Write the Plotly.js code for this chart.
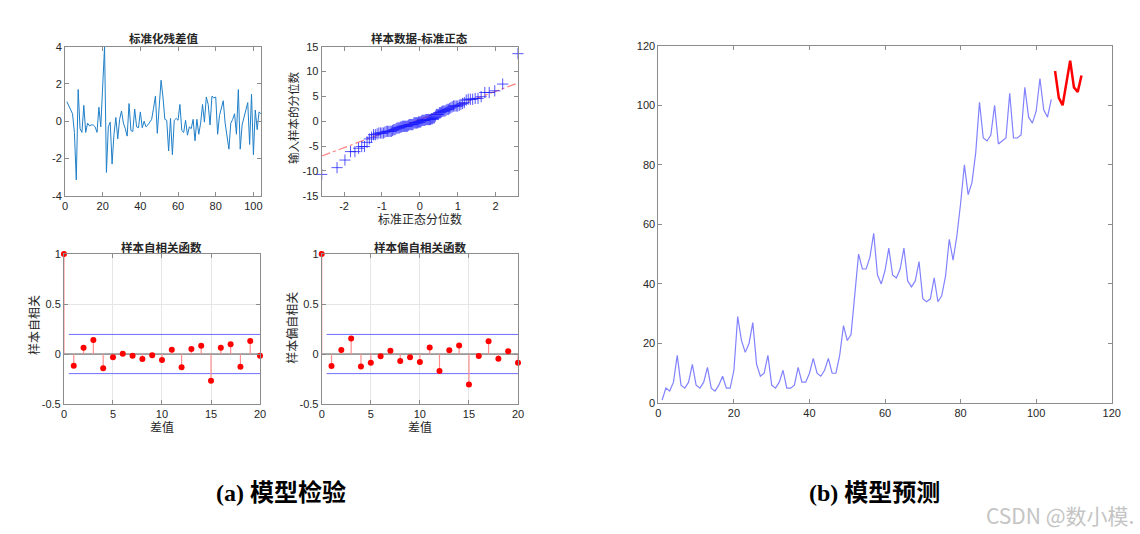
<!DOCTYPE html>
<html>
<head>
<meta charset="utf-8">
<script src="https://cdn.plot.ly/plotly-3.0.1.min.js"></script>
<style>
html,body{margin:0;padding:0;background:#fff;}
#chart{width:1140px;height:534px;}
</style>
</head>
<body>
<div id="chart"></div>
<script>
// ---------- data ----------
// (1) standardized residuals, index 1..104
const residuals = [1.05,0.8,0.6,0.4,-0.6,-3.15,1.7,-0.4,-0.6,0.85,
  -0.6,-0.1,-0.25,-0.2,-0.2,-0.3,-0.6,0.75,-0.3,1.8,
  4.0,-2.75,-0.3,-0.05,-2.3,-0.7,0.2,-0.95,0.1,0.55,
  -0.1,-0.4,-0.8,0.95,-0.5,-0.55,0.65,-0.3,-0.35,0.5,
  -0.35,0.0,-0.3,-0.2,-0.05,0.1,0.7,1.35,-0.65,0.9,
  2.2,1.3,0.1,0.05,-1.6,0.15,-1.8,0.05,0.15,0.05,
  0.9,-0.5,-0.6,0.05,-0.75,-0.3,-0.4,0.1,-1.05,0.1,
  -0.7,-0.1,0.9,-0.05,1.3,0.9,-0.2,1.35,1.25,1.3,
  -0.7,0.3,0.7,1.1,-0.1,-0.8,-1.5,-0.1,0.1,0.4,
  -0.7,1.7,-1.5,-0.2,0.2,0.6,1.0,-1.25,1.45,-1.8,
  0.6,-0.45,0.5,0.4];
const residualSD = 3.4;

// (2) QQ reference line (red dash-dot) and solid quartile segment
const qqLineX = [-2.59, 2.59];
const qqLineY = [-7.0, 7.7];
const qqSolidX = [-0.67, 0.67];
const qqSolidY = [-1.55, 2.25];

// (3) sample ACF, lags 0..20
const lags = [0,1,2,3,4,5,6,7,8,9,10,11,12,13,14,15,16,17,18,19,20];
const acfValues = [1,-0.117,0.063,0.14,-0.143,-0.033,0.003,-0.017,-0.05,-0.013,-0.06,
  0.043,-0.133,0.05,0.083,-0.267,0.063,0.097,-0.127,0.13,-0.017];
// (4) sample PACF, lags 0..20
const pacfValues = [1,-0.12,0.04,0.154,-0.124,-0.087,-0.023,0.033,-0.07,-0.033,-0.08,
  0.064,-0.17,0.037,0.084,-0.304,-0.02,0.127,-0.047,0.027,-0.087];
const confBound = 0.196;
const confLagRange = [0.5, 20];

// (5) observed series (1..104) and forecast (105..112)
const observed = [1,5,4,7,16,6,5,7,13,6,
  5,7,12,5,4,6,9,5,5,11,
  29,21,17,20,27,13,9,10,16,6,
  5,7,11,5,5,6,12,7,7,10,
  15,10,9,11,15,10,10,16,26,21,
  23,36,50,45,45,49,57,43,40,44.5,
  52,43,42,45,52,41,39,41,47.5,35,
  34,35,42,34,36,42.5,55,48,56,67,
  80,70,74,84,101,89,88,90,100,87,
  88,89,104,89,89,90,106,96,94,98,
  109,98.5,96,102];
const forecastStart = 105;
const forecast = [111.5,102.5,100,107,115,106,104.5,110];

// tick labels
const resXTicks = [0,20,40,60,80,100];
const resYTicks = [-4,-2,0,2,4];
const qqXTicks = [-2,-1,0,1,2];
const qqYTicks = [-15,-10,-5,0,5,10,15];
const corrXTicks = [0,5,10,15,20];
const corrYTicks = [-0.5,0,0.5,1];
const predTicks = [0,20,40,60,80,100,120];

// ---------- helpers ----------
function invNorm(p){ // Acklam inverse normal CDF
  const a=[-39.69683028665376,220.9460984245205,-275.9285104469687,138.3577518672690,-30.66479806614716,2.506628277459239];
  const b=[-54.47609879822406,161.5858368580409,-155.6989798598866,66.80131188771972,-13.28068155288572];
  const c=[-0.007784894002430293,-0.3223964580411365,-2.400758277161838,-2.549732539343734,4.374664141464968,2.938163982698783];
  const d=[0.007784695709041462,0.3224671290700398,2.445134137142996,3.754408661907416];
  const pl=0.02425, ph=1-pl; let q,r;
  if(p<pl){q=Math.sqrt(-2*Math.log(p));return (((((c[0]*q+c[1])*q+c[2])*q+c[3])*q+c[4])*q+c[5])/((((d[0]*q+d[1])*q+d[2])*q+d[3])*q+1);}
  if(p<=ph){q=p-0.5;r=q*q;return (((((a[0]*r+a[1])*r+a[2])*r+a[3])*r+a[4])*r+a[5])*q/(((((b[0]*r+b[1])*r+b[2])*r+b[3])*r+b[4])*r+1);}
  q=Math.sqrt(-2*Math.log(1-p));return -(((((c[0]*q+c[1])*q+c[2])*q+c[3])*q+c[4])*q+c[5])/((((d[0]*q+d[1])*q+d[2])*q+d[3])*q+1);
}
const residIdx = residuals.map((_, i) => i + 1);
const n = residuals.length;
const qqY = residuals.map(v => v * residualSD).sort((a, b) => a - b);
const qqX = qqY.map((_, i) => invNorm((i + 0.5) / n));
const obsIdx = observed.map((_, i) => i + 1);
const fcIdx = forecast.map((_, i) => forecastStart + i);

function stems(xs, ys){
  const sx = [], sy = [];
  xs.forEach((x, i) => { sx.push(x, x, null); sy.push(0, ys[i], null); });
  return {x: sx, y: sy};
}
const tickFont = {family:'"Liberation Sans", Arial, sans-serif', size:11, color:'#262626'};
function ax(extra){
  return Object.assign({
    showline:true, linecolor:'#8c8c8c', linewidth:1, mirror:'ticks',
    ticks:'inside', ticklen:4, tickcolor:'#8c8c8c', tickwidth:1,
    showgrid:false, zeroline:false, tickfont:tickFont, fixedrange:true
  }, extra);
}
function tv(arr){ return {tickmode:'array', tickvals:arr, ticktext:arr.map(v => String(v))}; }

const X1=[0.0570,0.2289], X2=[0.2822,0.4544], X3=[0.0561,0.2281];
const YT=[0.6335,0.9125], YB=[0.2434,0.5243];

const traces = [];
// panel 1
traces.push({x:residIdx, y:residuals, xaxis:'x', yaxis:'y', mode:'lines',
  line:{color:'#1f7fc8', width:1}, hoverinfo:'skip'});
// panel 2
traces.push({x:qqLineX, y:qqLineY, xaxis:'x2', yaxis:'y2', mode:'lines',
  line:{color:'#ff7f7f', width:1.2, dash:'dashdot'}, hoverinfo:'skip'});
traces.push({x:qqSolidX, y:qqSolidY, xaxis:'x2', yaxis:'y2', mode:'lines',
  line:{color:'#ff7f7f', width:1.2}, hoverinfo:'skip'});
traces.push({x:qqX, y:qqY, xaxis:'x2', yaxis:'y2', mode:'markers', cliponaxis:false,
  marker:{symbol:'cross-thin-open', size:8, color:'rgba(30,30,255,0.75)', line:{color:'rgba(30,30,255,0.75)', width:1}}, hoverinfo:'skip'});
// panels 3 & 4
[[acfValues,'x3','y3'],[pacfValues,'x4','y4']].forEach(([vals, xa, ya]) => {
  traces.push({x:[0,20], y:[0,0], xaxis:xa, yaxis:ya, mode:'lines', line:{color:'#555555', width:1}, hoverinfo:'skip'});
  traces.push({x:confLagRange, y:[confBound, confBound], xaxis:xa, yaxis:ya, mode:'lines', line:{color:'#6f6fff', width:1}, hoverinfo:'skip'});
  traces.push({x:confLagRange, y:[-confBound, -confBound], xaxis:xa, yaxis:ya, mode:'lines', line:{color:'#6f6fff', width:1}, hoverinfo:'skip'});
  const s = stems(lags, vals);
  traces.push({x:s.x, y:s.y, xaxis:xa, yaxis:ya, mode:'lines', cliponaxis:false, line:{color:'#ff8f8f', width:1.2}, connectgaps:false, hoverinfo:'skip'});
  traces.push({x:lags, y:vals, xaxis:xa, yaxis:ya, mode:'markers', cliponaxis:false, marker:{color:'#ff0000', size:6}, hoverinfo:'skip'});
});
// panel 5
traces.push({x:obsIdx, y:observed, xaxis:'x5', yaxis:'y5', mode:'lines', line:{color:'#8282ff', width:1.2}, hoverinfo:'skip'});
traces.push({x:fcIdx, y:forecast, xaxis:'x5', yaxis:'y5', mode:'lines', line:{color:'#ff0000', width:2.5}, hoverinfo:'skip'});

const cjk = '"Noto Sans CJK SC", "Liberation Sans", sans-serif';
function ann(text, x, y, size, opts){
  return Object.assign({text:text, x:x, y:y, xref:'paper', yref:'paper', xanchor:'center', yanchor:'middle',
    showarrow:false, font:{family:cjk, size:size, color:'#262626'}}, opts || {});
}
const titleFont = {family:cjk, size:11.5, color:'#262626', weight:600};
const capFont = {family:'"Liberation Serif", "Noto Sans CJK SC", serif', size:24, color:'#000', weight:'bold'};
const annotations = [
  ann('标准化残差值', 0.143, 0.9283, 11.5, {font:titleFont}),
  ann('样本数据-标准正态', 0.3684, 0.9283, 11.5, {font:titleFont}),
  ann('标准正态分位数', 0.3684, 0.5899, 12),
  ann('输入样本的分位数', 0.2570, 0.779, 11.5, {textangle:-90}),
  ann('样本自相关函数', 0.1421, 0.538, 11.5, {font:titleFont}),
  ann('差值', 0.1421, 0.2004, 12),
  ann('样本自相关', 0.0298, 0.3914, 12, {textangle:-90}),
  ann('样本偏自相关函数', 0.3684, 0.538, 11.5, {font:titleFont}),
  ann('差值', 0.3684, 0.2004, 12),
  ann('样本偏自相关', 0.2559, 0.3858, 12, {textangle:-90}),
  ann('(a) 模型检验', 0.2465, 0.0768, 24, {font:capFont}),
  ann('(b) 模型预测', 0.7667, 0.0768, 24, {font:capFont}),
  ann('CSDN @数小模.', 0.9965, 0.0356, 21, {xanchor:'right', font:{family:cjk, size:21, color:'#c4c4c4'}})
];

const layout = {
  width:1140, height:534, margin:{l:0, r:0, t:0, b:0},
  paper_bgcolor:'#ffffff', plot_bgcolor:'#ffffff', showlegend:false,
  xaxis:  ax(Object.assign({domain:X1, anchor:'y',  range:[0,104]}, tv(resXTicks))),
  yaxis:  ax(Object.assign({domain:YT, anchor:'x',  range:[-4,4]}, tv(resYTicks))),
  xaxis2: ax(Object.assign({domain:X2, anchor:'y2', range:[-2.59,2.59]}, tv(qqXTicks))),
  yaxis2: ax(Object.assign({domain:YT, anchor:'x2', range:[-15,15]}, tv(qqYTicks))),
  xaxis3: ax(Object.assign({domain:X3, anchor:'y3', range:[0,20], showgrid:true, gridcolor:'#e6e6e6'}, tv(corrXTicks))),
  yaxis3: ax(Object.assign({domain:YB, anchor:'x3', range:[-0.5,1], showgrid:true, gridcolor:'#e6e6e6'}, tv(corrYTicks))),
  xaxis4: ax(Object.assign({domain:X2, anchor:'y4', range:[0,20], showgrid:true, gridcolor:'#e6e6e6'}, tv(corrXTicks))),
  yaxis4: ax(Object.assign({domain:YB, anchor:'x4', range:[-0.5,1], showgrid:true, gridcolor:'#e6e6e6'}, tv(corrYTicks))),
  xaxis5: ax(Object.assign({domain:[0.5775,0.9752], anchor:'y5', range:[0,120]}, tv(predTicks))),
  yaxis5: ax(Object.assign({domain:[0.2453,0.9144], anchor:'x5', range:[0,120]}, tv(predTicks))),
  annotations: annotations
};

Plotly.newPlot('chart', traces, layout, {staticPlot:true, displayModeBar:false});
</script>
</body>
</html>
